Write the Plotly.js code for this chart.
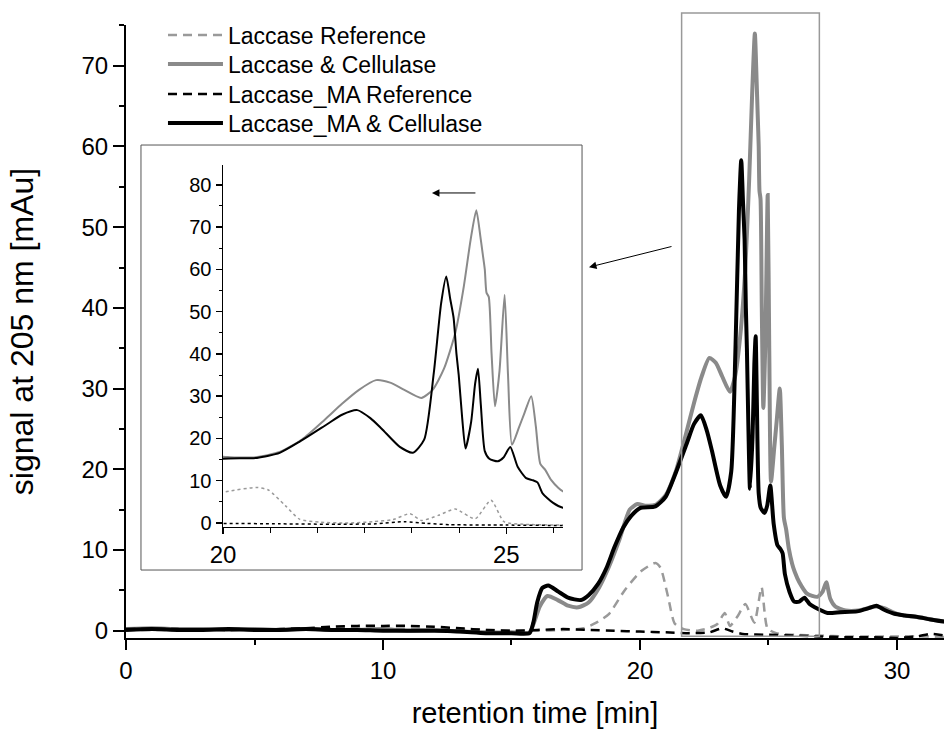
<!DOCTYPE html>
<html>
<head>
<meta charset="utf-8">
<script src="https://cdn.plot.ly/plotly-3.0.1.min.js"></script>
<style>html,body{margin:0;padding:0;background:#fff;}#chart{width:944px;height:729px;}</style>
</head>
<body>
<div id="chart"></div>
<script>
// ---- data (retention time [min], signal [mAu]) ----
var seriesNames = ["Laccase Reference", "Laccase & Cellulase", "Laccase_MA Reference", "Laccase_MA & Cellulase"];

var lacRefT = [0, 2, 4, 6, 8, 10, 12, 14, 16, 17, 17.8, 18.3, 18.8, 19.4, 20.05, 20.6, 20.8, 21.1, 21.35, 21.7, 22.2, 22.65, 23.0, 23.3, 23.5, 23.8, 24.1, 24.45, 24.73, 24.96, 25.3, 26, 27, 28, 29, 30, 31, 31.9];
var lacRefV = [0.1, 0.1, 0.2, 0.2, 0.3, 0.3, 0.2, 0.1, 0.0, 0.1, 0.3, 1.0, 2.1, 5.0, 7.4, 8.4, 7.8, 4.1, 0.9, 0.2, 0.0, 0.3, 0.8, 2.2, 0.6, 1.8, 3.3, 1.0, 5.4, 0.3, -0.3, -0.5, -0.6, -0.7, -0.7, -0.7, -0.7, -0.8];

var lacCelT = [0, 1, 2, 3, 4, 5, 6, 7, 8, 9, 10, 11, 12, 13, 14, 15, 15.7, 15.9, 16.1, 16.4, 16.8, 17.2, 17.6, 18.0, 18.4, 18.8, 19.2, 19.6, 19.9, 20.2, 20.6, 21.0, 21.4, 21.8, 22.1, 22.4, 22.7, 22.95, 23.2, 23.5, 23.7, 23.9, 24.1, 24.25, 24.37, 24.47, 24.54, 24.58, 24.62, 24.65, 24.69, 24.74, 24.8, 24.88, 24.97, 25.03, 25.1, 25.22, 25.32, 25.44, 25.52, 25.6, 25.69, 25.79, 25.92, 26.02, 26.2, 26.5, 26.9, 27.1, 27.25, 27.4, 27.6, 28.0, 28.5, 29.0, 29.2, 29.5, 30.0, 30.5, 31.0, 31.5, 31.9];
var lacCelV = [0.2, 0.3, 0.2, 0.2, 0.1, 0.2, 0.1, 0.2, 0.1, 0.1, 0.2, 0.0, 0.1, -0.1, -0.2, -0.2, -0.2, 1.2, 3.0, 4.3, 3.8, 3.1, 2.9, 3.5, 5.3, 8.0, 11.3, 15.0, 15.7, 15.5, 15.6, 16.8, 19.8, 24.5, 28.2, 31.5, 33.8, 33.2, 31.5, 29.6, 31.5, 36.5, 45, 56, 67, 74, 68, 64, 60, 54.5, 53.5, 40, 27.6, 36, 54, 35, 18.5, 22.5, 26, 30, 23, 14, 12.5, 10.2, 8.3, 7.3, 6.0, 4.6, 4.2, 4.8, 6.0, 4.0, 3.0, 2.5, 2.5, 2.9, 3.0, 2.8, 2.1, 1.8, 1.6, 1.3, 1.1];

var maRefT = [0, 2, 4, 6, 7, 8, 9, 10, 11, 12, 13, 14, 15, 16, 17, 18, 19, 20, 21, 22, 22.7, 23.2, 23.6, 24, 25, 26, 27, 28, 29, 30, 30.8, 31.3, 31.9];
var maRefV = [0.2, 0.2, 0.1, 0.2, 0.3, 0.5, 0.6, 0.6, 0.6, 0.5, 0.3, 0.1, 0.0, 0.1, 0.2, 0.1, 0.0, -0.1, -0.2, -0.3, -0.2, 0.3, -0.1, -0.4, -0.5, -0.6, -0.7, -0.8, -0.8, -0.9, -0.7, -0.4, -0.6];

var maCelT = [0, 1, 2, 3, 4, 5, 6, 7, 8, 9, 10, 11, 12, 13, 14, 15, 15.7, 15.85, 16.0, 16.2, 16.43, 16.8, 17.2, 17.7, 18.0, 18.37, 18.7, 19.0, 19.35, 19.65, 20.0, 20.6, 21.0, 21.36, 21.83, 22.1, 22.37, 22.6, 22.8, 23.12, 23.35, 23.55, 23.72, 23.85, 23.94, 24.01, 24.07, 24.12, 24.16, 24.22, 24.28, 24.38, 24.45, 24.5, 24.55, 24.62, 24.7, 24.85, 24.95, 25.07, 25.2, 25.35, 25.47, 25.55, 25.64, 25.82, 26.0, 26.2, 26.4, 26.6, 26.8, 27.3, 27.8, 28.45, 28.9, 29.2, 29.5, 29.9, 30.3, 30.8, 31.3, 31.9];
var maCelV = [0.1, 0.2, 0.1, 0.1, 0.2, 0.1, 0.1, 0.2, 0.1, 0.1, 0.0, 0.0, 0.0, -0.1, -0.3, -0.3, -0.3, 1.0, 3.5, 5.3, 5.6, 4.9, 4.1, 3.8, 4.4, 5.8, 7.8, 10.3, 12.8, 14.2, 15.2, 15.4, 16.6, 19.3, 23.3, 25.6, 26.7, 24.8, 22.3, 18.0, 16.6, 19.7, 35.5, 52, 58.3, 53, 48.5, 40, 35, 25, 17.6, 24, 33, 36.5, 28, 17, 15.2, 14.6, 15.5, 18.0, 13.3, 10.6, 10.1, 9.6, 7.0, 4.8, 3.6, 3.6, 4.1, 3.3, 2.9, 2.2, 2.3, 2.4, 2.8, 3.1, 2.6, 2.1, 1.9, 1.7, 1.4, 1.1];

var mainXTicks = [0, 10, 20, 30];
var mainYTicks = [0, 10, 20, 30, 40, 50, 60, 70];
var insetXTicks = [20, 25];
var insetYTicks = [0, 10, 20, 30, 40, 50, 60, 70, 80];

// ---- styling ----
var FONT = "Arial, 'Liberation Sans', Helvetica, sans-serif";
var GRAY = "#8a8a8a", GRAYD = "#9a9a9a", BLACK = "#000000";
var SM = 0.6;

var traces = [
  {x: lacRefT, y: lacRefV, name: seriesNames[0], legend: "legend", mode: "lines", line: {color: GRAYD, width: 2.5, dash: "9px,6px", shape: "spline", smoothing: SM}},
  {x: lacCelT, y: lacCelV, name: seriesNames[1], legend: "legend2", mode: "lines", line: {color: GRAY, width: 4, shape: "spline", smoothing: SM}},
  {x: maRefT, y: maRefV, name: seriesNames[2], legend: "legend3", mode: "lines", line: {color: BLACK, width: 2.5, dash: "9px,6px", shape: "spline", smoothing: SM}},
  {x: maCelT, y: maCelV, name: seriesNames[3], legend: "legend4", mode: "lines", line: {color: BLACK, width: 4, shape: "spline", smoothing: SM}},
  // inset
  {x: lacRefT, y: lacRefV, xaxis: "x2", yaxis: "y2", showlegend: false, mode: "lines", line: {color: GRAYD, width: 1.5, dash: "dot", shape: "spline", smoothing: SM}},
  {x: maRefT, y: maRefV, xaxis: "x2", yaxis: "y2", showlegend: false, mode: "lines", line: {color: BLACK, width: 1.5, dash: "dot", shape: "spline", smoothing: SM}},
  {x: lacCelT, y: lacCelV, xaxis: "x2", yaxis: "y2", showlegend: false, mode: "lines", line: {color: GRAY, width: 2, shape: "spline", smoothing: SM}},
  {x: maCelT, y: maCelV, xaxis: "x2", yaxis: "y2", showlegend: false, mode: "lines", line: {color: BLACK, width: 2, shape: "spline", smoothing: SM}}
];

function legendAt(yPaper) {
  return {x: 0.0452, y: yPaper, xanchor: "left", yanchor: "middle", bgcolor: "rgba(0,0,0,0)", borderwidth: 0,
          font: {size: 23, family: FONT}, itemwidth: 55};
}

var layout = {
  width: 944, height: 729,
  margin: {l: 126, r: 0, t: 25, b: 91, pad: 0},
  paper_bgcolor: "#fff", plot_bgcolor: "rgba(0,0,0,0)",
  font: {family: FONT, color: "#000"},
  showlegend: true,
  legend: legendAt(0.9837),
  legend2: legendAt(0.9364),
  legend3: legendAt(0.8874),
  legend4: legendAt(0.8401),
  xaxis: {range: [0, 31.83], domain: [0, 1], showline: true, linecolor: "#000", linewidth: 2, mirror: false,
          ticks: "outside", ticklen: 10, tickwidth: 2, tickcolor: "#000", tickvals: mainXTicks, ticktext: mainXTicks.map(String),
          minor: {dtick: 5, tick0: 0, ticklen: 5, tickwidth: 2, tickcolor: "#000", ticks: "outside"},
          showgrid: false, zeroline: false, tickfont: {size: 24},
          title: {text: "retention time [min]", font: {size: 29}}},
  yaxis: {range: [-0.9, 75.05], showline: true, linecolor: "#000", linewidth: 2,
          ticks: "outside", ticklen: 11, tickwidth: 2, tickcolor: "#000", tickvals: mainYTicks, ticktext: mainYTicks.map(String),
          minor: {dtick: 5, tick0: 0, ticklen: 5, tickwidth: 2, tickcolor: "#000", ticks: "outside"},
          showgrid: false, zeroline: false, tickfont: {size: 24}, automargin: true,
          title: {text: "signal at 205 nm [mAu]", font: {size: 32}, standoff: 38}},
  xaxis2: {anchor: "y2", domain: [0.1186, 0.5342], range: [20, 26], showline: true, linecolor: "#000", linewidth: 1.5,
           ticks: "outside", ticklen: 6, tickwidth: 1.5, tickcolor: "#000", tickvals: insetXTicks, ticktext: insetXTicks.map(String),
           minor: {dtick: 5/6, tick0: 20, ticklen: 5, tickwidth: 1, tickcolor: "#000", ticks: "outside"},
           showgrid: false, zeroline: false, tickfont: {size: 24}},
  yaxis2: {anchor: "x2", domain: [0.1811, 0.7716], range: [-0.95, 84.7], showline: true, linecolor: "#000", linewidth: 1.5,
           ticks: "outside", ticklen: 6, tickwidth: 1.5, tickcolor: "#000", tickvals: insetYTicks, ticktext: insetYTicks.map(String),
           minor: {dtick: 5, tick0: 0, ticklen: 3, tickwidth: 1, tickcolor: "#000", ticks: "outside"},
           showgrid: false, zeroline: false, tickfont: {size: 20}},
  shapes: [
    {type: "rect", xref: "paper", yref: "paper", x0: 0.0183, x1: 0.5575, y0: 0.1109, y1: 0.8042,
     line: {color: "#555", width: 1}, fillcolor: "rgba(0,0,0,0)", layer: "below"},
    {type: "rect", xref: "x", yref: "paper", x0: 21.62, x1: 26.98, y0: 0.003, y1: 1.0196,
     line: {color: "#999", width: 1.5}, fillcolor: "rgba(0,0,0,0)"}
  ],
  annotations: [
    {xref: "paper", yref: "paper", x: 0.566, y: 0.605, ax: 84, ay: -21, text: "", showarrow: true,
     arrowhead: 2, arrowsize: 1.5, arrowwidth: 1, arrowcolor: "#000", standoff: 0},
    {xref: "paper", yref: "paper", x: 0.374, y: 0.726, ax: 45, ay: 0, text: "", showarrow: true,
     arrowhead: 2, arrowsize: 1.5, arrowwidth: 1, arrowcolor: "#000", standoff: 0}
  ]
};

Plotly.newPlot("chart", traces, layout, {displayModeBar: false, staticPlot: true});
</script>
</body>
</html>
